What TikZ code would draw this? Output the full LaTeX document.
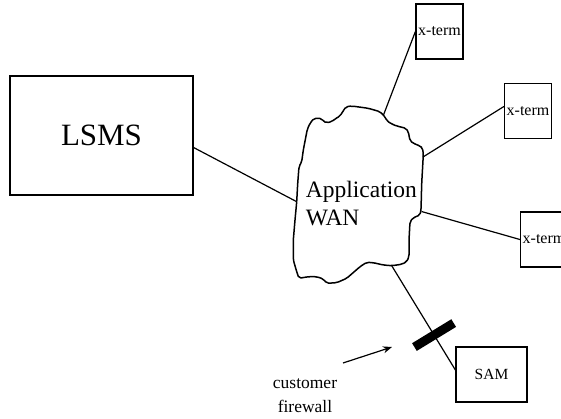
\documentclass[tikz,border=0pt]{standalone}
\usepackage{fontspec}
\setmainfont{Liberation Serif}
\usetikzlibrary{arrows.meta,calc}
\begin{document}
\begin{tikzpicture}[x=1pt,y=-1pt,
  box/.style={draw,line width=1.2pt,inner sep=0pt},
  term/.style={box,minimum width=47pt,minimum height=55pt,font=\fontsize{16}{19}\selectfont},
  conn/.style={line width=1.2pt},
  cloudline/.style={line width=1.5pt,rounded corners=2pt,line join=round},
  lbl/.style={inner sep=0pt}
]
\useasboundingbox (0,0) rectangle (561,419);
\clip (0,0) rectangle (561,419);

% boxes
\node[box,minimum width=183pt,minimum height=119pt,font=\fontsize{31}{36}\selectfont] (lsms) at (101.5,135.5) {LSMS};
\node[term] (xt1) at (439.5,31.5) {x-term};
\node[term] (xt2) at (528,111) {x-term};
\node[term] (xt3) at (544,239.5) {x-term};
\node[box,minimum width=71pt,minimum height=55pt,font=\fontsize{15.5}{19}\selectfont] (sam) at (491.5,374.5) {SAM};

% cloud
\draw[cloudline] (314,118.3) -- (321.7,118.3) -- (323.3,121.7) -- (326.7,122.7) -- (331.7,121.7)
  -- (335,119) -- (340,116) -- (342.7,111.7) -- (346,106.7) -- (351.7,106) -- (368.3,108.3)
  -- (380,111.7) -- (385,116.7) -- (386.7,120.7) -- (391.7,124) -- (396.7,126) -- (406,128.3)
  -- (408.3,131.7) -- (410,140.7) -- (413.3,143.3) -- (420,146) -- (422.7,148.3) -- (423.3,155)
  -- (421.7,183.3) -- (421,210) -- (420,215) -- (413.3,217.7) -- (410,221.7) -- (409,240)
  -- (409,256.7) -- (406.7,261.7) -- (401.7,264.3) -- (391.7,265.7) -- (383.3,265) -- (373.3,262.7)
  -- (366.7,262.3) -- (360,266.7) -- (346.7,278.3) -- (336.7,282.7) -- (326.7,283.3) -- (323.3,279)
  -- (316.7,276.7) -- (308.3,276.7) -- (299,278.3) -- (296.7,271.7) -- (293.3,260) -- (293.3,240)
  -- (295,220) -- (296.7,201.7) -- (297.7,183.3) -- (299,166.7) -- (301.7,161.7) -- (303.3,150)
  -- (307.3,129.3) -- (310,123.3) -- cycle;
\node[lbl,anchor=base west,align=left,font=\fontsize{23.5}{28.3}\selectfont] (wan) at (305.7,226) {Application\\WAN};

% attachment points on the cloud
\coordinate (wanN) at (383.5,115);
\coordinate (wanE1) at (423,157);
\coordinate (wanE2) at (421.5,211.5);
\coordinate (wanS) at (391.7,265.7);
\coordinate (wanW) at (296.7,201.7);

% connectors
\draw[conn] ($(lsms.north east)!0.6!(lsms.south east)$) -- (wanW);
\draw[conn] (xt1.west) -- (wanN);
\draw[conn] ($(xt2.north west)!0.42!(xt2.south west)$) -- (wanE1);
\draw[conn] (xt3.west) -- (wanE2);
\draw[conn] (wanS) -- node[sloped,pos=0.665,fill=black,inner sep=0pt,minimum width=9pt,minimum height=46pt] (fw) {} ($(sam.north west)!0.42!(sam.south west)$);

% firewall label
\node[lbl,anchor=base,align=center,font=\fontsize{17.5}{24}\selectfont] (fwl) at (305,412) {customer\\firewall};
\coordinate (arS) at (343,363);
\coordinate (arE) at (392,347);
\draw[conn,-{Stealth[length=9pt,width=7pt]}] (arS) -- (arE);
\end{tikzpicture}
\end{document}
